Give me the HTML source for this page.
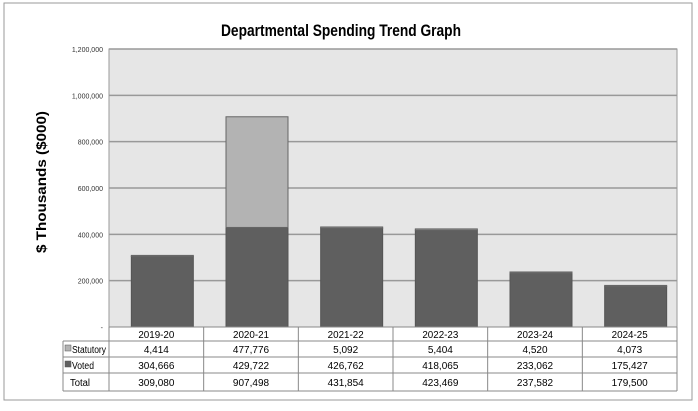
<!DOCTYPE html>
<html><head><meta charset="utf-8"><style>
body{margin:0;background:#fff;font-family:"Liberation Sans",sans-serif}
svg text{font-family:"Liberation Sans",sans-serif}
</style></head><body>
<svg width="698" height="406">
<rect x="4" y="3" width="688" height="397" fill="#fff" stroke="#999"/>
<text x="341" y="36" text-anchor="middle" font-size="17" font-weight="bold" textLength="240" lengthAdjust="spacingAndGlyphs">Departmental Spending Trend Graph</text>
<text transform="translate(46,182) rotate(-90)" text-anchor="middle" font-size="14" font-weight="bold" textLength="142" lengthAdjust="spacingAndGlyphs">$ Thousands ($000)</text>
<g id="plot"></g>
</svg>
<script>
const categories=["2019-20","2020-21","2021-22","2022-23","2023-24","2024-25"];
const statutory=[4414,477776,5092,5404,4520,4073];
const voted=[304666,429722,426762,418065,233062,175427];
const yTicks=[0,200000,400000,600000,800000,1000000,1200000];
const NS="http://www.w3.org/2000/svg";
const g=document.getElementById('plot');
const x0=109,x1=677,yT=49,yB=327,ymax=1200000;
const cw=(x1-x0)/categories.length;
const y=v=>yB-(v/ymax)*(yB-yT);
const fmt=v=>v.toLocaleString('en-US');
function mk(t,a,txt){const e=document.createElementNS(NS,t);for(const k in a)e.setAttribute(k,a[k]);if(txt!==undefined)e.textContent=txt;g.appendChild(e);return e;}
let e=mk('rect',{x:x0,y:yT,width:x1-x0,height:yB-yT,fill:'#e6e6e6',stroke:'#999'});

yTicks.forEach(t=>{
 if(t>0){e=mk('line',{x1:x0,x2:x1,y1:y(t),y2:y(t),stroke:'#999','stroke-width':1.5});
 }
 e=mk('text',{x:103,y:y(t)+3,'text-anchor':'end','font-size':7,fill:'#333'},t===0?'-':fmt(t));
 
});
categories.forEach((c,i)=>{
 const cx=x0+cw*(i+0.5)+6,bw=62;
 e=mk('rect',{x:cx-bw/2,y:y(voted[i]),width:bw,height:yB-y(voted[i]),fill:'#5f5f5f',stroke:'#555'});
 
 e=mk('rect',{x:cx-bw/2,y:y(voted[i]+statutory[i]),width:bw,height:y(voted[i])-y(voted[i]+statutory[i]),fill:'#b3b3b3',stroke:'#666'});
 
});
const rows=[341,357,373,391];const tl=63;
e=mk('line',{x1:x0,x2:x1,y1:yB,y2:yB,stroke:'#888'});
for(let r=0;r<rows.length;r++){e=mk('line',{x1:tl,x2:x1,y1:rows[r],y2:rows[r],stroke:'#888'});
 }
e=mk('line',{x1:tl,x2:tl,y1:rows[0],y2:rows[3],stroke:'#888'});
for(let i=0;i<=categories.length;i++){e=mk('line',{x1:x0+cw*i,x2:x0+cw*i,y1:yB,y2:rows[3],stroke:'#888'});
 }
const labels=[["Statutory","#b3b3b3",34],["Voted","#5f5f5f",22],["Total",null,20]];
labels.forEach((l,r)=>{
 const cy=(rows[r]+rows[r+1])/2+4;
 if(l[1]){e=mk('rect',{x:65,y:cy-8,width:6,height:6,fill:l[1],stroke:'#555','stroke-width':0.5});
  }
 e=mk('text',{x:l[1]?72:70,y:cy,'font-size':10,textLength:l[2],lengthAdjust:'spacingAndGlyphs'},l[0]);
 
});
categories.forEach((c,i)=>{
 const cx=x0+cw*(i+0.5);
 e=mk('text',{x:cx,y:338,'text-anchor':'middle','font-size':10,textLength:36,lengthAdjust:'spacingAndGlyphs'},c);
 
 [statutory[i],voted[i],statutory[i]+voted[i]].forEach((v,r)=>{
  e=mk('text',{x:cx,y:(rows[r]+rows[r+1])/2+4,'text-anchor':'middle','font-size':10},fmt(v));
  
 });
});
</script>
</body></html>
